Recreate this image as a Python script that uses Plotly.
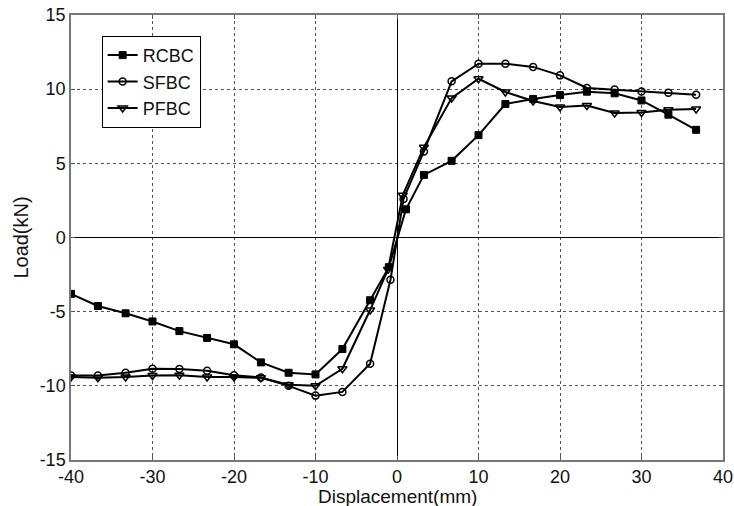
import plotly.graph_objects as go

disp_neg = [-40, -36.7, -33.3, -30, -26.7, -23.3, -20, -16.7, -13.3, -10, -6.7, -3.3]
disp_pos = [3.3, 6.7, 10, 13.3, 16.7, 20, 23.3, 26.7, 30, 33.3, 36.7]

rcbc_near_x = [-1.0, 1.1]
sfbc_near_x = [-0.8, 0.8]
pfbc_near_x = [-1.1, 0.7]

rcbc_load = [-3.80, -4.62, -5.11, -5.66, -6.31, -6.77, -7.20, -8.42, -9.12, -9.23, -7.52, -4.23,
             -2.0, 1.9,
             4.22, 5.17, 6.9, 9.0, 9.34, 9.6, 9.83, 9.72, 9.24, 8.28, 7.26]
sfbc_load = [-9.3, -9.3, -9.12, -8.85, -8.87, -8.98, -9.28, -9.44, -10.0, -10.66, -10.41, -8.51,
             -2.85, 2.6,
             5.8, 10.53, 11.72, 11.72, 11.5, 10.93, 10.08, 9.97, 9.85, 9.76, 9.63]
pfbc_load = [-9.41, -9.46, -9.41, -9.3, -9.28, -9.41, -9.41, -9.46, -9.93, -10.0, -8.85, -4.89,
             -2.15, 2.85,
             6.09, 9.4, 10.7, 9.81, 9.2, 8.8, 8.9, 8.39, 8.43, 8.61, 8.66]

x_ticks = [-40, -30, -20, -10, 0, 10, 20, 30, 40]
x_tick_labels = ["-40", "-30", "-20", "-10", "0", "10", "20", "30", "40"]
y_ticks = [-15, -10, -5, 0, 5, 10, 15]
y_tick_labels = ["-15", "-10", "-5", "0", "5", "10", "15"]

FONT = "Liberation Sans, Arial, sans-serif"

fig = go.Figure()
fig.add_trace(go.Scatter(
    x=disp_neg + rcbc_near_x + disp_pos, y=rcbc_load, name="RCBC", mode="lines+markers",
    line=dict(color="black", width=2),
    marker=dict(symbol="square", size=7, color="black", line=dict(color="black", width=1))))
fig.add_trace(go.Scatter(
    x=disp_neg + sfbc_near_x + disp_pos, y=sfbc_load, name="SFBC", mode="lines+markers",
    line=dict(color="black", width=2),
    marker=dict(symbol="circle-open", size=7, color="black", line=dict(color="black", width=1.5))))
fig.add_trace(go.Scatter(
    x=disp_neg + pfbc_near_x + disp_pos, y=pfbc_load, name="PFBC", mode="lines+markers",
    line=dict(color="black", width=2),
    marker=dict(symbol="triangle-down-open", size=8, color="black", line=dict(color="black", width=1.5))))

axis_common = dict(
    automargin=False,
    ticklabeloverflow="allow",
    showgrid=True, gridcolor="#555555", griddash="dot", gridwidth=1,
    zeroline=True, zerolinecolor="black", zerolinewidth=1,
    showline=True, linecolor="#777777", linewidth=1.5, mirror="allticks",
    ticks="inside", ticklen=4, tickcolor="#555555",
    tickfont=dict(family=FONT, size=18, color="#111111"),
)

fig.update_layout(
    width=734, height=506,
    margin=dict(l=71, r=11, t=15, b=46),
    paper_bgcolor="white", plot_bgcolor="white",
    font=dict(family=FONT, color="#111111"),
    xaxis=dict(range=[-40, 40], tickvals=x_ticks, ticktext=x_tick_labels, **axis_common),
    yaxis=dict(range=[-15, 15], tickvals=y_ticks, ticktext=y_tick_labels,
               title=dict(text="Load(kN)", font=dict(family=FONT, size=20), standoff=6),
               **axis_common),
    legend=dict(x=0.047, y=0.953, xanchor="left", yanchor="top",
                bgcolor="white", bordercolor="black", borderwidth=1,
                font=dict(family=FONT, size=18), itemwidth=30,
                tracegroupgap=0),
    showlegend=True,
    annotations=[dict(text="Displacement(mm)", xref="paper", yref="paper",
                      x=0.5, y=-0.081, xanchor="center", yanchor="middle", showarrow=False,
                      font=dict(family=FONT, size=19, color="#111111"))],
)

fig.write_html("out.html", config={"displayModeBar": False},
               post_script="document.body.style.margin='0px';")
